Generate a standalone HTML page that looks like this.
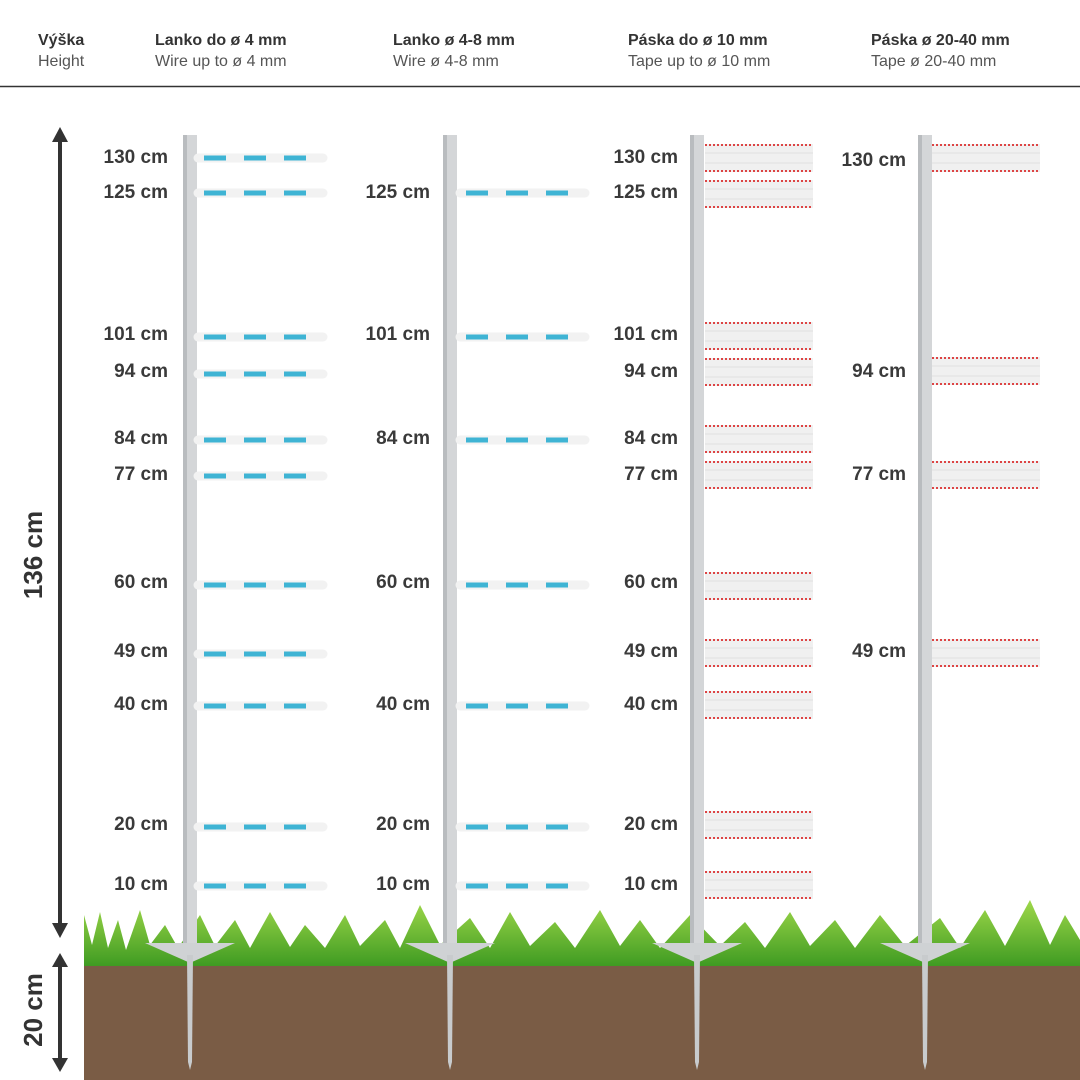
<!DOCTYPE html>
<html><head><meta charset="utf-8"><style>
html,body{margin:0;padding:0;background:#fff}
svg{display:block}
.h{font-family:"Liberation Sans",sans-serif;font-weight:bold;font-size:16px;fill:#333}
.s{font-family:"Liberation Sans",sans-serif;font-size:16px;fill:#555}
.l{font-family:"Liberation Sans",sans-serif;font-weight:bold;font-size:19px;fill:#3a3a3a;text-anchor:end}
.big{font-family:"Liberation Sans",sans-serif;font-weight:bold;font-size:26px;fill:#333;text-anchor:middle}
</style></head><body>
<svg width="1080" height="1080" viewBox="0 0 1080 1080" xmlns="http://www.w3.org/2000/svg">
<defs>
<g id="w1"><line x1="0" y1="0" x2="125" y2="0" stroke="#f2f2f2" stroke-width="9" stroke-linecap="round"/><line x1="6" y1="0" x2="125" y2="0" stroke="#3fb4d4" stroke-width="5" stroke-dasharray="22 18"/></g>
<g id="t1"><rect x="0" y="-14" width="108" height="28" fill="#f0f0f0"/><line x1="0" y1="-13" x2="108" y2="-13" stroke="#d44" stroke-width="2" stroke-dasharray="2 2"/><line x1="0" y1="13" x2="108" y2="13" stroke="#d44" stroke-width="2" stroke-dasharray="2 2"/><line x1="0" y1="-5" x2="108" y2="-5" stroke="#e0e0e0" stroke-width="1"/><line x1="0" y1="5" x2="108" y2="5" stroke="#e0e0e0" stroke-width="1"/></g>
<linearGradient id="grass" x1="0" y1="0" x2="0" y2="1"><stop offset="0" stop-color="#9fd84a"/><stop offset="1" stop-color="#3f9b22"/></linearGradient>
<g id="post">
<rect x="-7" y="135" width="14" height="808" fill="#d4d6d8"/>
<rect x="-7" y="135" width="4" height="808" fill="#b9bcbf"/>
<polygon points="-45,943 45,943 2,962 -2,962" fill="#cfd2d4"/>
<polygon points="-3,955 3,955 2,1062 0,1070 -2,1062" fill="#c8cbcd"/>
</g>
</defs>
<text class="h" x="38" y="45">Výška</text><text class="s" x="38" y="66">Height</text>
<text class="h" x="155" y="45">Lanko do ø 4 mm</text><text class="s" x="155" y="66">Wire up to ø 4 mm</text>
<text class="h" x="393" y="45">Lanko ø 4-8 mm</text><text class="s" x="393" y="66">Wire ø 4-8 mm</text>
<text class="h" x="628" y="45">Páska do ø 10 mm</text><text class="s" x="628" y="66">Tape up to ø 10 mm</text>
<text class="h" x="871" y="45">Páska ø 20-40 mm</text><text class="s" x="871" y="66">Tape ø 20-40 mm</text>
<line x1="0" y1="86.5" x2="1080" y2="86.5" stroke="#333" stroke-width="1.5"/>

<rect x="84" y="966" width="996" height="114" fill="#7a5c45"/>
<path d="M84 966 L84 915 L92 945 L100 912 L108 948 L118 920 L126 950 L140 910 L150 945 L165 925 L178 948 L200 915 L215 946 L235 920 L250 948 L270 912 L290 947 L305 925 L325 948 L345 915 L360 946 L385 920 L400 948 L420 905 L440 945 L470 918 L490 948 L510 912 L530 946 L555 922 L575 948 L600 910 L620 946 L640 920 L660 948 L690 915 L720 946 L745 922 L765 948 L790 912 L810 946 L835 920 L855 948 L880 915 L905 946 L940 918 L960 948 L985 910 L1005 946 L1030 900 L1050 945 L1065 915 L1080 940 L1080 966 Z" fill="url(#grass)"/>

<use href="#post" x="190"/><use href="#post" x="450"/><use href="#post" x="697"/><use href="#post" x="925"/>

<line x1="60" y1="140" x2="60" y2="925" stroke="#333" stroke-width="4"/>
<polygon points="52,142 68,142 60,127" fill="#333"/><polygon points="52,923 68,923 60,938" fill="#333"/>
<line x1="60" y1="965" x2="60" y2="1060" stroke="#333" stroke-width="4"/>
<polygon points="52,967 68,967 60,953" fill="#333"/><polygon points="52,1058 68,1058 60,1072" fill="#333"/>
<text class="big" transform="translate(42,555) rotate(-90)">136 cm</text>
<text class="big" transform="translate(42,1010) rotate(-90)">20 cm</text>

<g>
<text class="l" x="168" y="163">130 cm</text><use href="#w1" x="198" y="158"/>
<text class="l" x="168" y="198">125 cm</text><use href="#w1" x="198" y="193"/>
<text class="l" x="168" y="340">101 cm</text><use href="#w1" x="198" y="337"/>
<text class="l" x="168" y="377">94 cm</text><use href="#w1" x="198" y="374"/>
<text class="l" x="168" y="444">84 cm</text><use href="#w1" x="198" y="440"/>
<text class="l" x="168" y="480">77 cm</text><use href="#w1" x="198" y="476"/>
<text class="l" x="168" y="588">60 cm</text><use href="#w1" x="198" y="585"/>
<text class="l" x="168" y="657">49 cm</text><use href="#w1" x="198" y="654"/>
<text class="l" x="168" y="710">40 cm</text><use href="#w1" x="198" y="706"/>
<text class="l" x="168" y="830">20 cm</text><use href="#w1" x="198" y="827"/>
<text class="l" x="168" y="890">10 cm</text><use href="#w1" x="198" y="886"/>
</g>
<g>
<text class="l" x="430" y="198">125 cm</text><use href="#w1" x="460" y="193"/>
<text class="l" x="430" y="340">101 cm</text><use href="#w1" x="460" y="337"/>
<text class="l" x="430" y="444">84 cm</text><use href="#w1" x="460" y="440"/>
<text class="l" x="430" y="588">60 cm</text><use href="#w1" x="460" y="585"/>
<text class="l" x="430" y="710">40 cm</text><use href="#w1" x="460" y="706"/>
<text class="l" x="430" y="830">20 cm</text><use href="#w1" x="460" y="827"/>
<text class="l" x="430" y="890">10 cm</text><use href="#w1" x="460" y="886"/>
</g>
<g>
<text class="l" x="678" y="163">130 cm</text><use href="#t1" x="705" y="158"/>
<text class="l" x="678" y="198">125 cm</text><use href="#t1" x="705" y="194"/>
<text class="l" x="678" y="340">101 cm</text><use href="#t1" x="705" y="336"/>
<text class="l" x="678" y="377">94 cm</text><use href="#t1" x="705" y="372"/>
<text class="l" x="678" y="444">84 cm</text><use href="#t1" x="705" y="439"/>
<text class="l" x="678" y="480">77 cm</text><use href="#t1" x="705" y="475"/>
<text class="l" x="678" y="588">60 cm</text><use href="#t1" x="705" y="586"/>
<text class="l" x="678" y="657">49 cm</text><use href="#t1" x="705" y="653"/>
<text class="l" x="678" y="710">40 cm</text><use href="#t1" x="705" y="705"/>
<text class="l" x="678" y="830">20 cm</text><use href="#t1" x="705" y="825"/>
<text class="l" x="678" y="890">10 cm</text><use href="#t1" x="705" y="885"/>
</g>
<g>
<text class="l" x="906" y="166">130 cm</text><use href="#t1" x="932" y="158"/>
<text class="l" x="906" y="377">94 cm</text><use href="#t1" x="932" y="371"/>
<text class="l" x="906" y="480">77 cm</text><use href="#t1" x="932" y="475"/>
<text class="l" x="906" y="657">49 cm</text><use href="#t1" x="932" y="653"/>
</g>
</svg>
</body></html>
